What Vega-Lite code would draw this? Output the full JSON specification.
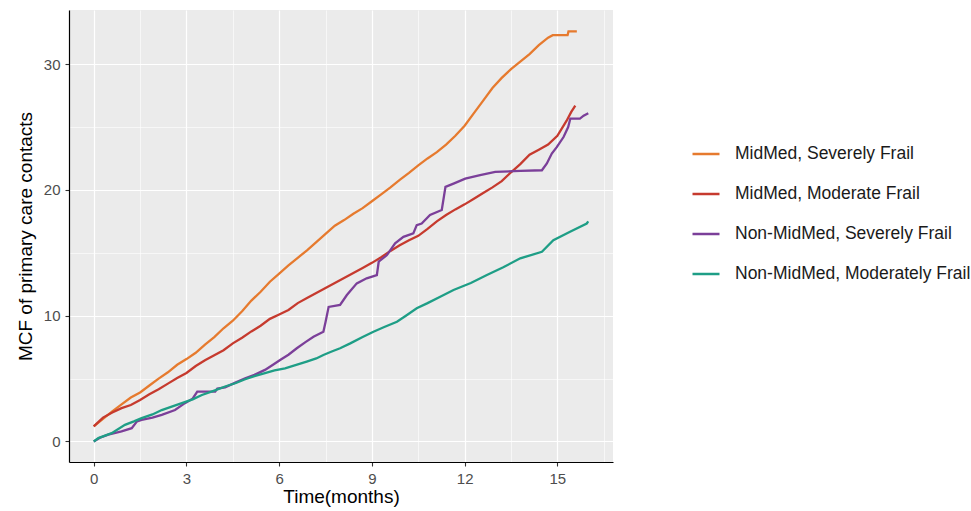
{
  "$schema": "https://vega.github.io/schema/vega-lite/v6.json",
  "width": 544,
  "height": 452,
  "autosize": {"type": "none"},
  "padding": {"left": 69, "top": 10, "right": 358, "bottom": 49},
  "background": "white",
  "config": {
    "view": {"fill": "#EBEBEB", "stroke": null},
    "font": "Liberation Sans"
  },
  "datasets": {
    "a": [
      {"g": "MidMed, Severely Frail", "t": 0, "v": 1.2}, {"g": "MidMed, Severely Frail", "t": 0.3, "v": 1.8}, {"g": "MidMed, Severely Frail", "t": 0.6, "v": 2.4}, {"g": "MidMed, Severely Frail", "t": 0.9, "v": 2.95}, {"g": "MidMed, Severely Frail", "t": 1.2, "v": 3.5}, {"g": "MidMed, Severely Frail", "t": 1.5, "v": 3.9}, {"g": "MidMed, Severely Frail", "t": 1.8, "v": 4.45}, {"g": "MidMed, Severely Frail", "t": 2.1, "v": 5.0}, {"g": "MidMed, Severely Frail", "t": 2.4, "v": 5.5}, {"g": "MidMed, Severely Frail", "t": 2.7, "v": 6.1}, {"g": "MidMed, Severely Frail", "t": 3.0, "v": 6.55}, {"g": "MidMed, Severely Frail", "t": 3.3, "v": 7.05}, {"g": "MidMed, Severely Frail", "t": 3.6, "v": 7.7}, {"g": "MidMed, Severely Frail", "t": 3.9, "v": 8.3}, {"g": "MidMed, Severely Frail", "t": 4.2, "v": 9.0}, {"g": "MidMed, Severely Frail", "t": 4.5, "v": 9.6}, {"g": "MidMed, Severely Frail", "t": 4.8, "v": 10.35}, {"g": "MidMed, Severely Frail", "t": 5.1, "v": 11.2}, {"g": "MidMed, Severely Frail", "t": 5.4, "v": 11.9}, {"g": "MidMed, Severely Frail", "t": 5.7, "v": 12.7}, {"g": "MidMed, Severely Frail", "t": 6.0, "v": 13.35}, {"g": "MidMed, Severely Frail", "t": 6.3, "v": 14.0}, {"g": "MidMed, Severely Frail", "t": 6.6, "v": 14.6}, {"g": "MidMed, Severely Frail", "t": 6.9, "v": 15.2}, {"g": "MidMed, Severely Frail", "t": 7.2, "v": 15.85}, {"g": "MidMed, Severely Frail", "t": 7.5, "v": 16.5}, {"g": "MidMed, Severely Frail", "t": 7.8, "v": 17.15}, {"g": "MidMed, Severely Frail", "t": 8.1, "v": 17.6}, {"g": "MidMed, Severely Frail", "t": 8.4, "v": 18.1}, {"g": "MidMed, Severely Frail", "t": 8.7, "v": 18.55}, {"g": "MidMed, Severely Frail", "t": 9.0, "v": 19.1}, {"g": "MidMed, Severely Frail", "t": 9.3, "v": 19.65}, {"g": "MidMed, Severely Frail", "t": 9.6, "v": 20.2}, {"g": "MidMed, Severely Frail", "t": 9.9, "v": 20.8}, {"g": "MidMed, Severely Frail", "t": 10.2, "v": 21.35}, {"g": "MidMed, Severely Frail", "t": 10.5, "v": 21.95}, {"g": "MidMed, Severely Frail", "t": 10.8, "v": 22.5}, {"g": "MidMed, Severely Frail", "t": 11.1, "v": 23.0}, {"g": "MidMed, Severely Frail", "t": 11.4, "v": 23.6}, {"g": "MidMed, Severely Frail", "t": 11.7, "v": 24.3}, {"g": "MidMed, Severely Frail", "t": 12.0, "v": 25.1}, {"g": "MidMed, Severely Frail", "t": 12.3, "v": 26.1}, {"g": "MidMed, Severely Frail", "t": 12.6, "v": 27.1}, {"g": "MidMed, Severely Frail", "t": 12.9, "v": 28.1}, {"g": "MidMed, Severely Frail", "t": 13.2, "v": 28.9}, {"g": "MidMed, Severely Frail", "t": 13.5, "v": 29.6}, {"g": "MidMed, Severely Frail", "t": 13.8, "v": 30.2}, {"g": "MidMed, Severely Frail", "t": 14.1, "v": 30.8}, {"g": "MidMed, Severely Frail", "t": 14.4, "v": 31.5}, {"g": "MidMed, Severely Frail", "t": 14.7, "v": 32.1}, {"g": "MidMed, Severely Frail", "t": 14.85, "v": 32.3}, {"g": "MidMed, Severely Frail", "t": 15.33, "v": 32.3}, {"g": "MidMed, Severely Frail", "t": 15.36, "v": 32.6}, {"g": "MidMed, Severely Frail", "t": 15.63, "v": 32.6},

      {"g": "MidMed, Moderate Frail", "t": 0, "v": 1.2}, {"g": "MidMed, Moderate Frail", "t": 0.3, "v": 1.9}, {"g": "MidMed, Moderate Frail", "t": 0.6, "v": 2.3}, {"g": "MidMed, Moderate Frail", "t": 0.9, "v": 2.65}, {"g": "MidMed, Moderate Frail", "t": 1.2, "v": 2.9}, {"g": "MidMed, Moderate Frail", "t": 1.5, "v": 3.3}, {"g": "MidMed, Moderate Frail", "t": 1.8, "v": 3.75}, {"g": "MidMed, Moderate Frail", "t": 2.1, "v": 4.15}, {"g": "MidMed, Moderate Frail", "t": 2.4, "v": 4.6}, {"g": "MidMed, Moderate Frail", "t": 2.7, "v": 5.05}, {"g": "MidMed, Moderate Frail", "t": 3.0, "v": 5.45}, {"g": "MidMed, Moderate Frail", "t": 3.3, "v": 6.0}, {"g": "MidMed, Moderate Frail", "t": 3.6, "v": 6.45}, {"g": "MidMed, Moderate Frail", "t": 3.9, "v": 6.85}, {"g": "MidMed, Moderate Frail", "t": 4.2, "v": 7.25}, {"g": "MidMed, Moderate Frail", "t": 4.5, "v": 7.8}, {"g": "MidMed, Moderate Frail", "t": 4.8, "v": 8.25}, {"g": "MidMed, Moderate Frail", "t": 5.1, "v": 8.75}, {"g": "MidMed, Moderate Frail", "t": 5.4, "v": 9.2}, {"g": "MidMed, Moderate Frail", "t": 5.7, "v": 9.75}, {"g": "MidMed, Moderate Frail", "t": 6.0, "v": 10.1}, {"g": "MidMed, Moderate Frail", "t": 6.3, "v": 10.45}, {"g": "MidMed, Moderate Frail", "t": 6.6, "v": 11.0}, {"g": "MidMed, Moderate Frail", "t": 6.9, "v": 11.4}, {"g": "MidMed, Moderate Frail", "t": 7.2, "v": 11.8}, {"g": "MidMed, Moderate Frail", "t": 7.5, "v": 12.2}, {"g": "MidMed, Moderate Frail", "t": 7.8, "v": 12.6}, {"g": "MidMed, Moderate Frail", "t": 8.1, "v": 13.0}, {"g": "MidMed, Moderate Frail", "t": 8.4, "v": 13.4}, {"g": "MidMed, Moderate Frail", "t": 8.7, "v": 13.8}, {"g": "MidMed, Moderate Frail", "t": 9.0, "v": 14.2}, {"g": "MidMed, Moderate Frail", "t": 9.3, "v": 14.65}, {"g": "MidMed, Moderate Frail", "t": 9.6, "v": 15.15}, {"g": "MidMed, Moderate Frail", "t": 9.9, "v": 15.6}, {"g": "MidMed, Moderate Frail", "t": 10.2, "v": 16.0}, {"g": "MidMed, Moderate Frail", "t": 10.5, "v": 16.35}, {"g": "MidMed, Moderate Frail", "t": 10.8, "v": 16.9}, {"g": "MidMed, Moderate Frail", "t": 11.1, "v": 17.5}, {"g": "MidMed, Moderate Frail", "t": 11.4, "v": 18.0}, {"g": "MidMed, Moderate Frail", "t": 11.7, "v": 18.45}, {"g": "MidMed, Moderate Frail", "t": 12.0, "v": 18.85}, {"g": "MidMed, Moderate Frail", "t": 12.3, "v": 19.3}, {"g": "MidMed, Moderate Frail", "t": 12.6, "v": 19.75}, {"g": "MidMed, Moderate Frail", "t": 12.9, "v": 20.2}, {"g": "MidMed, Moderate Frail", "t": 13.2, "v": 20.7}, {"g": "MidMed, Moderate Frail", "t": 13.5, "v": 21.4}, {"g": "MidMed, Moderate Frail", "t": 13.8, "v": 22.05}, {"g": "MidMed, Moderate Frail", "t": 14.1, "v": 22.8}, {"g": "MidMed, Moderate Frail", "t": 14.4, "v": 23.2}, {"g": "MidMed, Moderate Frail", "t": 14.7, "v": 23.6}, {"g": "MidMed, Moderate Frail", "t": 15.0, "v": 24.3}, {"g": "MidMed, Moderate Frail", "t": 15.3, "v": 25.5}, {"g": "MidMed, Moderate Frail", "t": 15.45, "v": 26.2}, {"g": "MidMed, Moderate Frail", "t": 15.58, "v": 26.7},

      {"g": "Non-MidMed, Severely Frail", "t": 0, "v": 0}, {"g": "Non-MidMed, Severely Frail", "t": 0.2, "v": 0.3}, {"g": "Non-MidMed, Severely Frail", "t": 0.47, "v": 0.55}, {"g": "Non-MidMed, Severely Frail", "t": 0.9, "v": 0.8}, {"g": "Non-MidMed, Severely Frail", "t": 1.23, "v": 1.06}, {"g": "Non-MidMed, Severely Frail", "t": 1.4, "v": 1.6}, {"g": "Non-MidMed, Severely Frail", "t": 1.55, "v": 1.72}, {"g": "Non-MidMed, Severely Frail", "t": 1.9, "v": 1.9}, {"g": "Non-MidMed, Severely Frail", "t": 2.2, "v": 2.12}, {"g": "Non-MidMed, Severely Frail", "t": 2.63, "v": 2.5}, {"g": "Non-MidMed, Severely Frail", "t": 2.95, "v": 3.05}, {"g": "Non-MidMed, Severely Frail", "t": 3.2, "v": 3.4}, {"g": "Non-MidMed, Severely Frail", "t": 3.35, "v": 3.97}, {"g": "Non-MidMed, Severely Frail", "t": 3.93, "v": 3.97}, {"g": "Non-MidMed, Severely Frail", "t": 4.0, "v": 4.2}, {"g": "Non-MidMed, Severely Frail", "t": 4.25, "v": 4.3}, {"g": "Non-MidMed, Severely Frail", "t": 4.6, "v": 4.7}, {"g": "Non-MidMed, Severely Frail", "t": 4.9, "v": 5.03}, {"g": "Non-MidMed, Severely Frail", "t": 5.2, "v": 5.3}, {"g": "Non-MidMed, Severely Frail", "t": 5.54, "v": 5.69}, {"g": "Non-MidMed, Severely Frail", "t": 5.8, "v": 6.1}, {"g": "Non-MidMed, Severely Frail", "t": 6.03, "v": 6.48}, {"g": "Non-MidMed, Severely Frail", "t": 6.3, "v": 6.9}, {"g": "Non-MidMed, Severely Frail", "t": 6.57, "v": 7.41}, {"g": "Non-MidMed, Severely Frail", "t": 6.85, "v": 7.9}, {"g": "Non-MidMed, Severely Frail", "t": 7.11, "v": 8.33}, {"g": "Non-MidMed, Severely Frail", "t": 7.43, "v": 8.73}, {"g": "Non-MidMed, Severely Frail", "t": 7.5, "v": 9.5}, {"g": "Non-MidMed, Severely Frail", "t": 7.6, "v": 10.7}, {"g": "Non-MidMed, Severely Frail", "t": 7.97, "v": 10.85}, {"g": "Non-MidMed, Severely Frail", "t": 8.19, "v": 11.64}, {"g": "Non-MidMed, Severely Frail", "t": 8.51, "v": 12.57}, {"g": "Non-MidMed, Severely Frail", "t": 8.83, "v": 12.97}, {"g": "Non-MidMed, Severely Frail", "t": 9.16, "v": 13.23}, {"g": "Non-MidMed, Severely Frail", "t": 9.22, "v": 14.29}, {"g": "Non-MidMed, Severely Frail", "t": 9.48, "v": 14.8}, {"g": "Non-MidMed, Severely Frail", "t": 9.75, "v": 15.75}, {"g": "Non-MidMed, Severely Frail", "t": 10.02, "v": 16.27}, {"g": "Non-MidMed, Severely Frail", "t": 10.34, "v": 16.54}, {"g": "Non-MidMed, Severely Frail", "t": 10.45, "v": 17.2}, {"g": "Non-MidMed, Severely Frail", "t": 10.61, "v": 17.33}, {"g": "Non-MidMed, Severely Frail", "t": 10.88, "v": 18.0}, {"g": "Non-MidMed, Severely Frail", "t": 11.26, "v": 18.4}, {"g": "Non-MidMed, Severely Frail", "t": 11.38, "v": 20.24}, {"g": "Non-MidMed, Severely Frail", "t": 11.64, "v": 20.5}, {"g": "Non-MidMed, Severely Frail", "t": 12.02, "v": 20.9}, {"g": "Non-MidMed, Severely Frail", "t": 12.5, "v": 21.17}, {"g": "Non-MidMed, Severely Frail", "t": 12.99, "v": 21.43}, {"g": "Non-MidMed, Severely Frail", "t": 13.8, "v": 21.51}, {"g": "Non-MidMed, Severely Frail", "t": 14.5, "v": 21.56}, {"g": "Non-MidMed, Severely Frail", "t": 14.66, "v": 22.1}, {"g": "Non-MidMed, Severely Frail", "t": 14.82, "v": 22.89}, {"g": "Non-MidMed, Severely Frail", "t": 14.98, "v": 23.4}, {"g": "Non-MidMed, Severely Frail", "t": 15.2, "v": 24.2}, {"g": "Non-MidMed, Severely Frail", "t": 15.35, "v": 25.0}, {"g": "Non-MidMed, Severely Frail", "t": 15.42, "v": 25.67}, {"g": "Non-MidMed, Severely Frail", "t": 15.73, "v": 25.67}, {"g": "Non-MidMed, Severely Frail", "t": 15.85, "v": 25.9}, {"g": "Non-MidMed, Severely Frail", "t": 16.0, "v": 26.1},

      {"g": "Non-MidMed, Moderately Frail", "t": 0, "v": 0}, {"g": "Non-MidMed, Moderately Frail", "t": 0.15, "v": 0.27}, {"g": "Non-MidMed, Moderately Frail", "t": 0.58, "v": 0.66}, {"g": "Non-MidMed, Moderately Frail", "t": 1.01, "v": 1.32}, {"g": "Non-MidMed, Moderately Frail", "t": 1.3, "v": 1.6}, {"g": "Non-MidMed, Moderately Frail", "t": 1.55, "v": 1.86}, {"g": "Non-MidMed, Moderately Frail", "t": 1.9, "v": 2.15}, {"g": "Non-MidMed, Moderately Frail", "t": 2.2, "v": 2.5}, {"g": "Non-MidMed, Moderately Frail", "t": 2.5, "v": 2.75}, {"g": "Non-MidMed, Moderately Frail", "t": 2.85, "v": 3.05}, {"g": "Non-MidMed, Moderately Frail", "t": 3.2, "v": 3.35}, {"g": "Non-MidMed, Moderately Frail", "t": 3.5, "v": 3.7}, {"g": "Non-MidMed, Moderately Frail", "t": 3.9, "v": 4.05}, {"g": "Non-MidMed, Moderately Frail", "t": 4.25, "v": 4.37}, {"g": "Non-MidMed, Moderately Frail", "t": 4.6, "v": 4.65}, {"g": "Non-MidMed, Moderately Frail", "t": 4.9, "v": 4.95}, {"g": "Non-MidMed, Moderately Frail", "t": 5.2, "v": 5.2}, {"g": "Non-MidMed, Moderately Frail", "t": 5.54, "v": 5.43}, {"g": "Non-MidMed, Moderately Frail", "t": 5.85, "v": 5.65}, {"g": "Non-MidMed, Moderately Frail", "t": 6.19, "v": 5.82}, {"g": "Non-MidMed, Moderately Frail", "t": 6.5, "v": 6.05}, {"g": "Non-MidMed, Moderately Frail", "t": 6.89, "v": 6.35}, {"g": "Non-MidMed, Moderately Frail", "t": 7.2, "v": 6.6}, {"g": "Non-MidMed, Moderately Frail", "t": 7.43, "v": 6.88}, {"g": "Non-MidMed, Moderately Frail", "t": 7.7, "v": 7.15}, {"g": "Non-MidMed, Moderately Frail", "t": 7.97, "v": 7.41}, {"g": "Non-MidMed, Moderately Frail", "t": 8.3, "v": 7.8}, {"g": "Non-MidMed, Moderately Frail", "t": 8.7, "v": 8.3}, {"g": "Non-MidMed, Moderately Frail", "t": 9.05, "v": 8.73}, {"g": "Non-MidMed, Moderately Frail", "t": 9.4, "v": 9.1}, {"g": "Non-MidMed, Moderately Frail", "t": 9.81, "v": 9.52}, {"g": "Non-MidMed, Moderately Frail", "t": 10.1, "v": 10.0}, {"g": "Non-MidMed, Moderately Frail", "t": 10.45, "v": 10.59}, {"g": "Non-MidMed, Moderately Frail", "t": 10.8, "v": 11.0}, {"g": "Non-MidMed, Moderately Frail", "t": 11.21, "v": 11.51}, {"g": "Non-MidMed, Moderately Frail", "t": 11.64, "v": 12.04}, {"g": "Non-MidMed, Moderately Frail", "t": 12.2, "v": 12.6}, {"g": "Non-MidMed, Moderately Frail", "t": 12.72, "v": 13.23}, {"g": "Non-MidMed, Moderately Frail", "t": 13.25, "v": 13.85}, {"g": "Non-MidMed, Moderately Frail", "t": 13.8, "v": 14.56}, {"g": "Non-MidMed, Moderately Frail", "t": 14.5, "v": 15.08}, {"g": "Non-MidMed, Moderately Frail", "t": 14.87, "v": 16.0}, {"g": "Non-MidMed, Moderately Frail", "t": 15.41, "v": 16.67}, {"g": "Non-MidMed, Moderately Frail", "t": 15.95, "v": 17.33}, {"g": "Non-MidMed, Moderately Frail", "t": 16.0, "v": 17.5}
    ]
  },
  "data": {"name": "a"},
  "mark": {"type": "line", "interpolate": "linear", "strokeWidth": 2.3},
  "encoding": {
    "x": {
      "field": "t", "type": "quantitative",
      "scale": {"domain": [-0.8, 16.8], "nice": false, "zero": false},
      "axis": {
        "title": "Time(months)",
        "values": [0, 1.5, 3, 4.5, 6, 7.5, 9, 10.5, 12, 13.5, 15, 16.5],
        "labelExpr": "datum.value % 3 === 0 ? datum.label : ''",
        "grid": true,
        "gridColor": "white",
        "gridWidth": {"condition": {"test": "datum.value % 3 === 0", "value": 1.2}, "value": 0.6},
        "tickOpacity": {"condition": {"test": "datum.value % 3 === 0", "value": 1}, "value": 0},
        "tickColor": "#333333", "tickSize": 4, "tickWidth": 1.1,
        "domainColor": "#000000", "domainWidth": 1.2,
        "labelColor": "#4D4D4D", "labelFontSize": 15, "labelPadding": 5,
        "labelFont": "Liberation Sans",
        "titleColor": "#000000", "titleFontSize": 19, "titleFontWeight": "normal",
        "titleFont": "Liberation Sans", "titlePadding": 1
      }
    },
    "y": {
      "field": "v", "type": "quantitative",
      "scale": {"domain": [-1.63, 34.3], "nice": false, "zero": false},
      "axis": {
        "title": "MCF of primary care contacts",
        "values": [0, 5, 10, 15, 20, 25, 30],
        "labelExpr": "datum.value % 10 === 0 ? datum.label : ''",
        "grid": true,
        "gridColor": "white",
        "gridWidth": {"condition": {"test": "datum.value % 10 === 0", "value": 1.2}, "value": 0.6},
        "tickOpacity": {"condition": {"test": "datum.value % 10 === 0", "value": 1}, "value": 0},
        "tickColor": "#333333", "tickSize": 4, "tickWidth": 1.1,
        "domainColor": "#000000", "domainWidth": 1.2,
        "labelColor": "#4D4D4D", "labelFontSize": 15, "labelPadding": 5,
        "labelFont": "Liberation Sans",
        "titleColor": "#000000", "titleFontSize": 19, "titleFontWeight": "normal",
        "titleFont": "Liberation Sans", "titlePadding": 8
      }
    },
    "color": {
      "field": "g", "type": "nominal",
      "scale": {
        "domain": ["MidMed, Severely Frail", "MidMed, Moderate Frail", "Non-MidMed, Severely Frail", "Non-MidMed, Moderately Frail"],
        "range": ["#E67A2E", "#C63A2E", "#7B3F99", "#1E9E86"]
      },
      "legend": {
        "title": null,
        "orient": "none",
        "legendX": 622,
        "legendY": 129,
        "symbolType": "stroke",
        "symbolSize": 729,
        "symbolStrokeWidth": 2.5,
        "labelFontSize": 17.5,
        "labelFont": "Liberation Sans",
        "labelColor": "#1A1A1A",
        "labelOffset": 14,
        "rowPadding": 16,
        "labelLimit": 400
      }
    }
  }
}
